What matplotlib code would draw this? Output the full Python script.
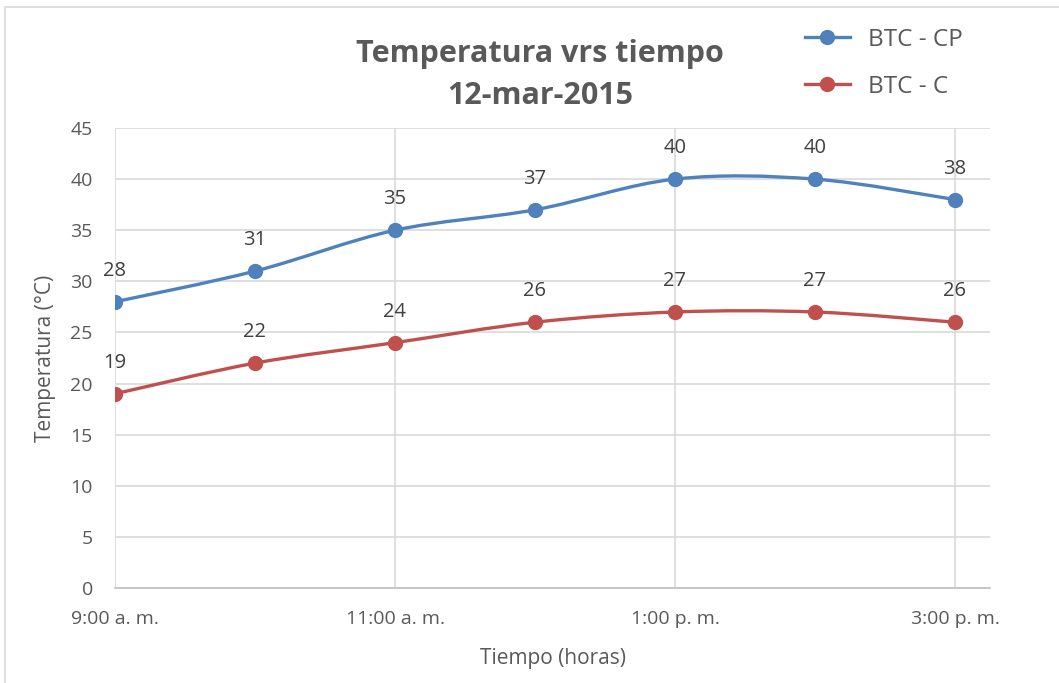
import matplotlib
matplotlib.use("Agg")
import matplotlib.pyplot as plt
import numpy as np
from matplotlib.path import Path
from matplotlib.patches import PathPatch
from matplotlib.lines import Line2D

# Data
hours = [9, 10, 11, 12, 13, 14, 15]
btc_cp = [28, 31, 35, 37, 40, 40, 38]
btc_c = [19, 22, 24, 26, 27, 27, 26]
series_names = ["BTC - CP", "BTC - C"]
tick_hours = [9, 11, 13, 15]
tick_labels = ["9:00 a. m.", "11:00 a. m.", "1:00 p. m.", "3:00 p. m."]

BLUE = "#4F81BD"
RED = "#C0504D"
TXT = "#595959"
LBL = "#404040"
FONT = ["Open Sans", "DejaVu Sans"]

plt.rcParams["font.family"] = FONT

fig = plt.figure(figsize=(10.59, 6.83), dpi=100)
ax = fig.add_axes([115 / 1059, 1 - 588 / 683, 875 / 1059, 460 / 683])

# Chart-area border
fig.add_artist(plt.Rectangle((5 / 1059, -0.05), 1.2, 1 - 7 / 683 + 0.05,
                             transform=fig.transFigure, fill=False,
                             edgecolor="#D9D9D9", linewidth=1.2))


def smooth_path(xs, ys):
    """Bezier path through the points, in the style of spreadsheet smoothed lines."""
    p = np.column_stack([xs, ys]).astype(float)
    n = len(p)
    verts = [p[0]]
    codes = [Path.MOVETO]
    for i in range(n - 1):
        p0 = p[i - 1] if i > 0 else p[i]
        p1 = p[i]
        p2 = p[i + 1]
        p3 = p[i + 2] if i + 2 < n else p[i + 1]
        c1 = p1 + (p2 - p0) / 6.0
        c2 = p2 - (p3 - p1) / 6.0
        verts += [c1, c2, p2]
        codes += [Path.CURVE4] * 3
    return Path(verts, codes)


for ys, color in [(btc_cp, BLUE), (btc_c, RED)]:
    ax.add_patch(PathPatch(smooth_path(hours, ys), facecolor="none",
                           edgecolor=color, linewidth=2.4, zorder=3,
                           capstyle="round"))
    ax.plot(hours, ys, linestyle="none", marker="o", markersize=10,
            color=color, zorder=4)
    for x, y in zip(hours, ys):
        ax.annotate(f"{y}", (x, y), xytext=(0, 15), textcoords="offset points",
                    ha="center", va="bottom", fontsize=14.5, color=LBL, zorder=5)

ax.set_xlim(9, 15.25)
ax.set_ylim(0, 45)
ax.set_yticks(np.arange(0, 46, 5))
ax.set_xticks(tick_hours)
ax.set_xticklabels(tick_labels)
ax.grid(True, color="#D9D9D9", linewidth=1.2, zorder=0)
ax.set_axisbelow(True)
for side in ["top", "right", "left"]:
    ax.spines[side].set_visible(False)
ax.spines["bottom"].set_color("#BFBFBF")
ax.spines["bottom"].set_linewidth(1.2)
ax.tick_params(axis="both", length=0, labelsize=14, labelcolor=TXT)
ax.tick_params(axis="x", pad=16)
ax.tick_params(axis="y", pad=16)

ax.set_ylabel("Temperatura (°C)", fontsize=15, color=TXT, labelpad=10)
ax.set_xlabel("Tiempo (horas)", fontsize=15, color=TXT, labelpad=14)

fig.text(540 / 1059, 1 - 75 / 683, "Temperatura vrs tiempo\n12-mar-2015",
         ha="center", va="center", fontsize=22, fontweight="bold",
         color=TXT, linespacing=1.55)

handles = [Line2D([], [], color=BLUE, marker="o", markersize=10, linewidth=2.4),
           Line2D([], [], color=RED, marker="o", markersize=10, linewidth=2.4)]
fig.legend(handles, series_names, loc="upper left",
           bbox_to_anchor=(783 / 1059, 1 - 6 / 683), frameon=False,
           fontsize=17.5, labelcolor=TXT, handlelength=1.85, labelspacing=0.95,
           handletextpad=0.75)

fig.savefig("out.png", dpi=100)
